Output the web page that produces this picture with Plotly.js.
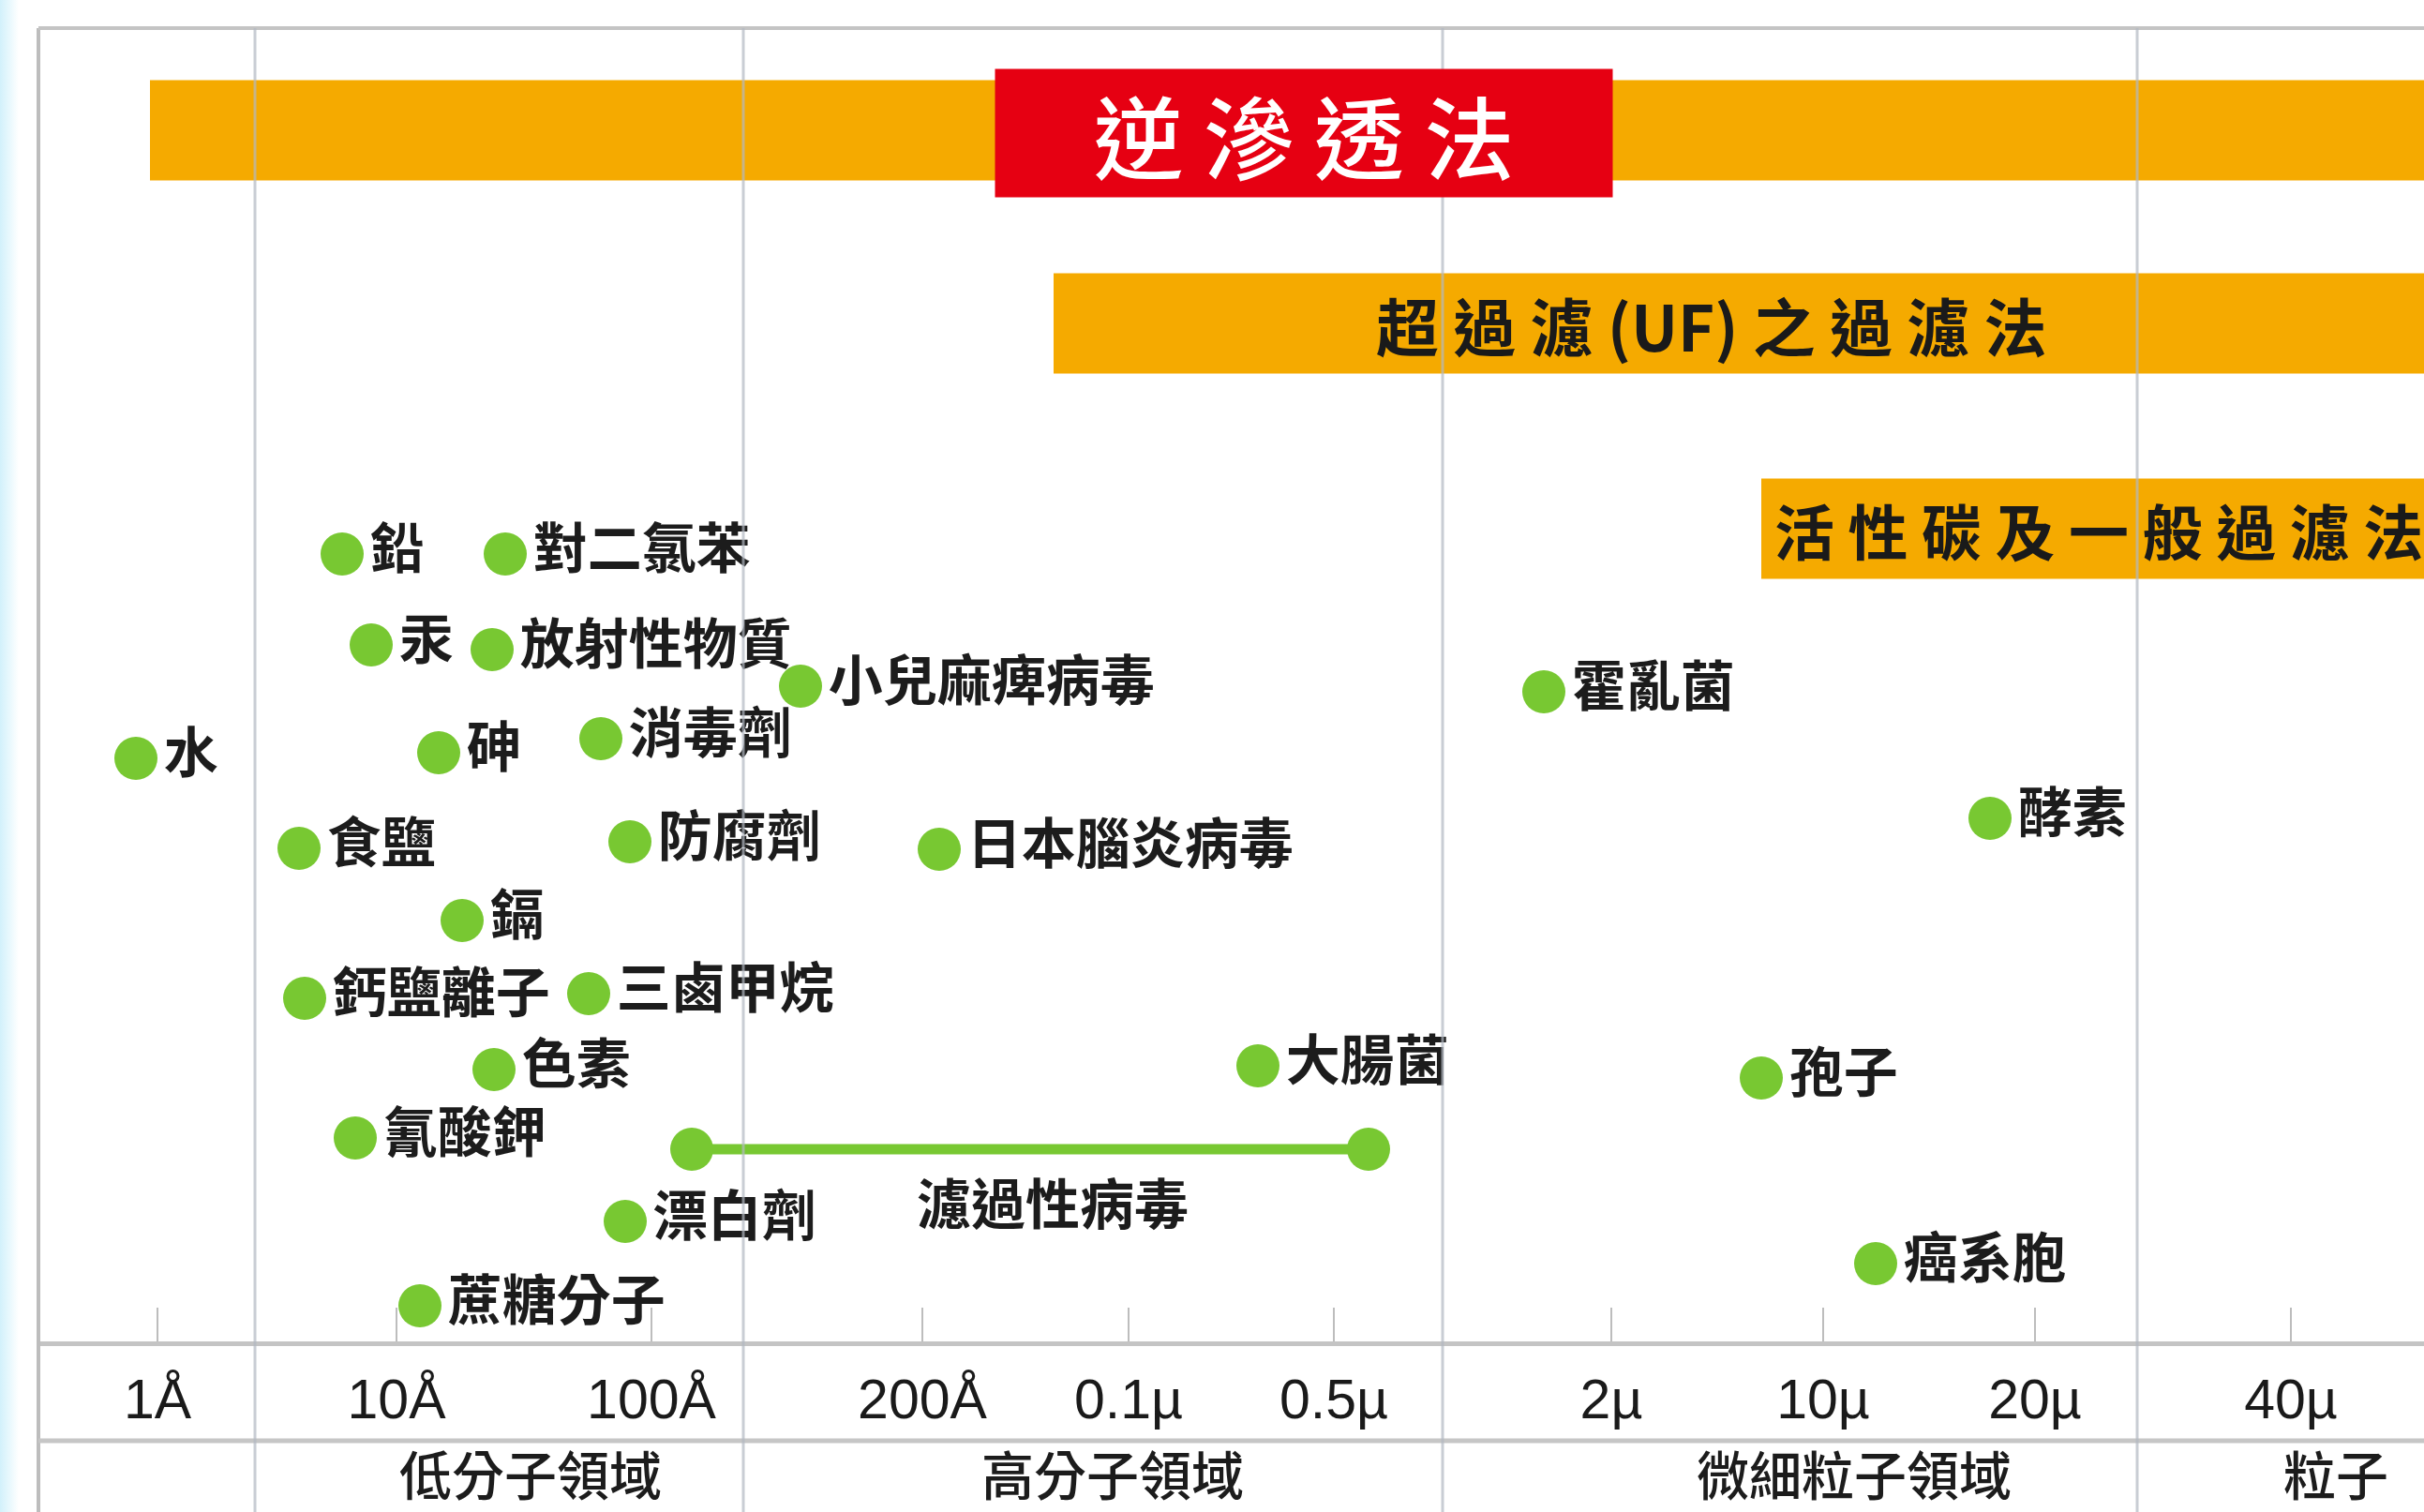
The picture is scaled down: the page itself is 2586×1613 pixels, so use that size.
<!DOCTYPE html>
<html>
<head>
<meta charset="utf-8">
<script src="https://cdn.plot.ly/plotly-3.0.1.min.js"></script>
<style>
html, body { margin:0; padding:0; width:2586px; height:1613px; overflow:hidden;
  background: linear-gradient(to right, #d2f1fb 0px, #e8f8fd 10px, #ffffff 20px, #ffffff 100%); }
#chart { width:2586px; height:1613px; }
</style>
</head>
<body>
<div id="chart"></div>
<script>
// ---- schematic size axis (non-uniform scale) ----
const tickPos    = [1.27, 3.82, 6.54, 9.43, 11.63, 13.82, 16.78, 19.04, 21.30, 24.03];
const tickLabels = ['1Å', '10Å', '100Å', '200Å', '0.1µ', '0.5µ', '2µ', '10µ', '20µ', '40µ'];

// ---- size regions ----
const regionBounds = [2.31, 7.52, 14.98, 22.39];
const regionNames  = ['低分子領域', '高分子領域', '微細粒子領域', '粒子'];
const regionLabelX = [5.25, 11.46, 19.37, 24.51];

// ---- filtration methods (ranges) ----
const methodNames = ['逆滲透法', '超過濾(UF)之過濾法', '活性碳及一般過濾法'];
const methodStart = [1.19, 10.83, 18.38];
const methodEnd   = [26.0, 26.0, 26.0];
const methodRow   = [12.92, 10.86, 8.67];

// ---- substances ----
const itemNames = ['水', '鉛', '對二氯苯', '汞', '放射性物質', '小兒麻痺病毒', '砷', '消毒劑',
                   '食鹽', '防腐劑', '日本腦炎病毒', '鎘', '鈣鹽離子', '三鹵甲烷', '色素', '氰酸鉀',
                   '漂白劑', '蔗糖分子', '大腸菌', '霍亂菌', '酵素', '孢子', '癌系胞'];
const itemX = [1.04, 3.24, 4.98, 3.55, 4.84, 8.13, 4.27, 6.00,
               2.78, 6.31, 9.61, 4.52, 2.84, 5.87, 4.86, 3.38,
               6.26, 4.07, 13.01, 16.06, 20.82, 18.38, 19.60];
const itemY = [6.22, 8.40, 8.40, 7.43, 7.38, 6.99, 6.28, 6.43,
               5.26, 5.33, 5.25, 4.49, 3.66, 3.71, 2.90, 2.17,
               1.28, 0.38, 2.94, 6.93, 5.58, 2.81, 0.83];

// ---- virus size range ----
const virusName  = '濾過性病毒';
const virusRange = [6.97, 14.19];
const virusRow   = 2.05;

// ---------------------------------------------------------------
const GREEN = '#78c832';
const ORANGE = '#f5aa00';
const CJK = '"Noto Sans CJK TC", "Noto Sans CJK SC", sans-serif';

const traces = [
  {
    type: 'bar', orientation: 'h',
    y: methodRow, base: methodStart,
    x: methodEnd.map((e, i) => e - methodStart[i]),
    width: 1.07,
    marker: { color: ORANGE, line: { width: 0 } },
    hoverinfo: 'skip', showlegend: false
  },
  {
    type: 'scatter', mode: 'lines+markers',
    x: virusRange, y: [virusRow, virusRow],
    line: { color: GREEN, width: 11 },
    marker: { size: 46, color: GREEN },
    hoverinfo: 'skip', showlegend: false, cliponaxis: false
  },
  {
    type: 'scatter', mode: 'markers+text',
    x: itemX, y: itemY, text: itemNames,
    textposition: 'middle right',
    marker: { size: 46, color: GREEN },
    textfont: { family: CJK, size: 58, color: '#1c1c1c', weight: 700 },
    hoverinfo: 'skip', showlegend: false, cliponaxis: false
  }
];

const plotH = 1613 - 30 - 182;
const pY = px => (1431 - px) / plotH;   // pixel row -> paper y helper for table rows

const shapes = [];
// frame
shapes.push({ type: 'line', xref: 'paper', yref: 'paper', x0: 0, x1: 0, y0: -0.3, y1: 1,
  line: { color: '#bdbdbd', width: 4 }, layer: 'above' });
shapes.push({ type: 'line', xref: 'paper', yref: 'paper', x0: 0, x1: 1.05, y0: 1, y1: 1,
  line: { color: '#c4c4c4', width: 4 }, layer: 'above' });
shapes.push({ type: 'line', xref: 'paper', yref: 'paper', x0: 0, x1: 1.05, y0: pY(1537), y1: pY(1537),
  line: { color: '#c6c6c6', width: 5 }, layer: 'above' });
// region dividers
regionBounds.forEach(b => shapes.push({
  type: 'line', xref: 'x', yref: 'paper', x0: b, x1: b, y0: -0.3, y1: 1,
  line: { color: 'rgba(178,184,194,0.7)', width: 3 }, layer: 'above'
}));

const annotations = [];
// method labels
annotations.push({
  x: 13.50, y: 12.89, xref: 'x', yref: 'y', showarrow: false,
  text: methodNames[0].split('').join(' '),
  font: { family: CJK, size: 96, color: '#ffffff', weight: 500 },
  bgcolor: '#e60012', width: 658, height: 136, borderpad: 0,
  xanchor: 'center', yanchor: 'middle', valign: 'middle'
});
annotations.push({
  x: 17.84, y: methodRow[1], xref: 'x', yref: 'y', showarrow: false,
  text: '超 過 濾 (UF) 之 過 濾 法',
  font: { family: CJK, size: 67, color: '#1a1a1a', weight: 700 },
  xanchor: 'center', yanchor: 'middle'
});
annotations.push({
  x: methodStart[2], y: methodRow[2], xref: 'x', yref: 'y', showarrow: false,
  text: methodNames[2].split('').join(' '),
  font: { family: CJK, size: 64, color: '#1a1a1a', weight: 700 },
  xanchor: 'left', yanchor: 'middle', xshift: 12
});
// virus label
annotations.push({
  x: (virusRange[0] + virusRange[1]) / 2, y: virusRow, xref: 'x', yref: 'y', showarrow: false,
  text: virusName, xshift: 24, yshift: -55,
  font: { family: CJK, size: 58, color: '#1c1c1c', weight: 700 },
  xanchor: 'center', yanchor: 'middle'
});
// region labels
regionNames.forEach((n, i) => annotations.push({
  x: regionLabelX[i], y: pY(1570), xref: 'x', yref: 'paper', showarrow: false,
  text: n, font: { family: CJK, size: 56, color: '#1c1c1c', weight: 500 },
  xanchor: 'center', yanchor: 'middle'
}));

const layout = {
  width: 2586, height: 1613,
  margin: { l: 41, r: 0, t: 30, b: 182 },
  paper_bgcolor: 'rgba(0,0,0,0)', plot_bgcolor: '#ffffff',
  showlegend: false, hovermode: false,
  xaxis: {
    range: [0, 25.45], showgrid: false, zeroline: false,
    showline: true, linecolor: '#c4c4c4', linewidth: 5,
    tickmode: 'array', tickvals: tickPos, ticktext: tickLabels,
    ticks: 'inside', ticklen: 36, tickwidth: 2, tickcolor: '#bdbdbd',
    ticklabelstandoff: 6,
    tickfont: { family: '"Liberation Sans", Arial, sans-serif', size: 59, color: '#1a1a1a' },
    fixedrange: true
  },
  yaxis: {
    range: [0, plotH / 100], showgrid: false, zeroline: false, showline: false,
    showticklabels: false, ticks: '', fixedrange: true
  },
  shapes: shapes,
  annotations: annotations
};

Plotly.newPlot('chart', traces, layout, { staticPlot: true, displayModeBar: false });
</script>
</body>
</html>
